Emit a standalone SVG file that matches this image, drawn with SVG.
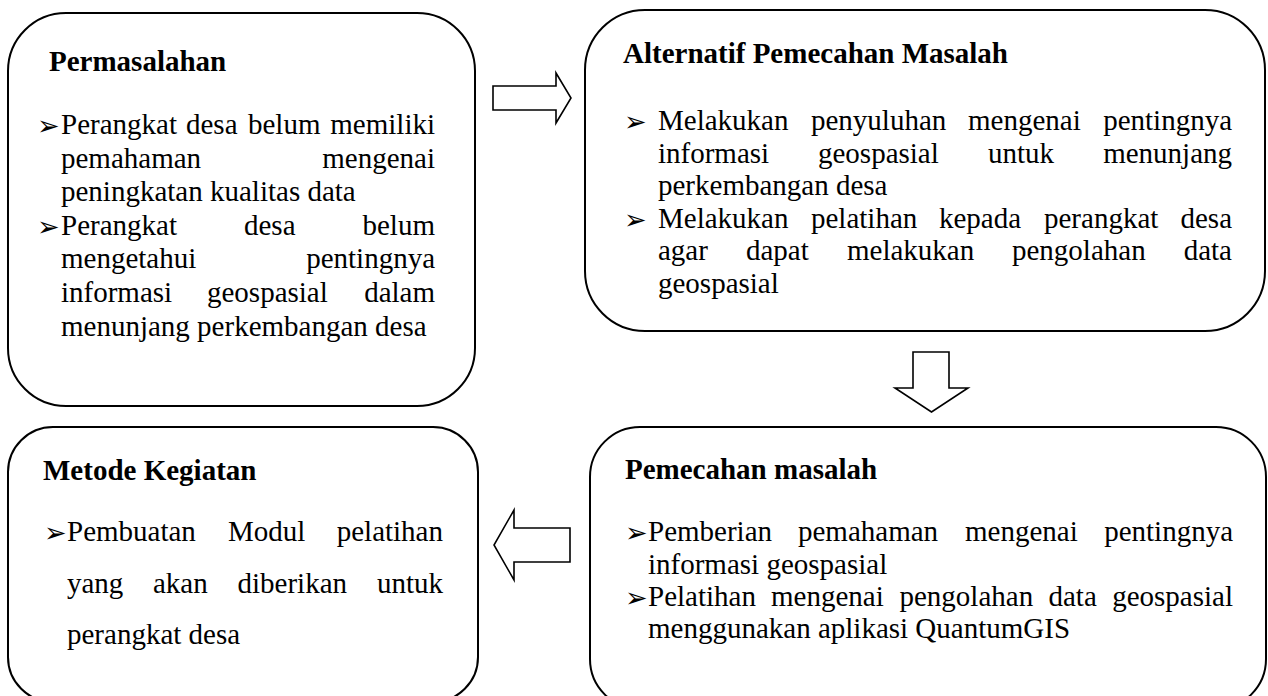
<svg xmlns="http://www.w3.org/2000/svg" width="1268" height="696" viewBox="0 0 1268 696">
<style>
.box{fill:#fff;stroke:#000;stroke-width:2}
.arr{fill:#fff;stroke:#000;stroke-width:1.6;stroke-linejoin:miter}
.t{font-family:"Liberation Serif","Times New Roman",serif;font-size:29px;fill:#000}
.b{font-weight:bold}
.e{text-anchor:end}
.bl{font-family:"DejaVu Sans",sans-serif;font-size:27px;fill:#000}
</style>
<rect width="1268" height="696" fill="#fff"/>
<g id="connectors">
<polygon class="arr" points="493,86 556,86 556,73 571,98 556,123 556,110 493,110"/>
<polygon class="arr" points="913,352 949,352 949,388 968,388 931.5,412 895,388 913,388"/>
<polygon class="arr" points="570,528 514,528 514,510 494,545 514,580 514,562 570,562"/>
</g>
<g id="permasalahan">
<rect class="box" x="8" y="13" width="467" height="393" rx="58" ry="58"/>
<text class="t b" x="49" y="71">Permasalahan</text>
<text class="bl" x="37" y="135">➢</text>
<text class="t" x="61" y="134">Perangkat</text>
<text class="t" x="186" y="134">desa</text>
<text class="t" x="248" y="134">belum</text>
<text class="t e" x="435" y="134">memiliki</text>
<text class="t" x="61" y="168">pemahaman</text>
<text class="t e" x="435" y="168">mengenai</text>
<text class="t" x="61" y="201">peningkatan kualitas data</text>
<text class="bl" x="37" y="236">➢</text>
<text class="t" x="61" y="235">Perangkat</text>
<text class="t" x="244" y="235">desa</text>
<text class="t e" x="435" y="235">belum</text>
<text class="t" x="61" y="268">mengetahui</text>
<text class="t e" x="435" y="268">pentingnya</text>
<text class="t" x="61" y="302">informasi</text>
<text class="t" x="207" y="302">geospasial</text>
<text class="t e" x="435" y="302">dalam</text>
<text class="t" x="61" y="336">menunjang perkembangan desa</text>
</g>
<g id="alternatif">
<rect class="box" x="585" y="10" width="680" height="321" rx="60" ry="60"/>
<text class="t b" x="623" y="63">Alternatif Pemecahan Masalah</text>
<text class="bl" x="624" y="131">➢</text>
<text class="t" x="658" y="130">Melakukan</text>
<text class="t" x="811" y="130">penyuluhan</text>
<text class="t" x="968" y="130">mengenai</text>
<text class="t e" x="1232" y="130">pentingnya</text>
<text class="t" x="658" y="162.5">informasi</text>
<text class="t" x="818" y="162.5">geospasial</text>
<text class="t" x="988" y="162.5">untuk</text>
<text class="t e" x="1232" y="162.5">menunjang</text>
<text class="t" x="658" y="195">perkembangan desa</text>
<text class="bl" x="624" y="228.5">➢</text>
<text class="t" x="658" y="227.5">Melakukan</text>
<text class="t" x="811" y="227.5">pelatihan</text>
<text class="t" x="939" y="227.5">kepada</text>
<text class="t" x="1044" y="227.5">perangkat</text>
<text class="t e" x="1232" y="227.5">desa</text>
<text class="t" x="658" y="260">agar</text>
<text class="t" x="746" y="260">dapat</text>
<text class="t" x="847" y="260">melakukan</text>
<text class="t" x="1012" y="260">pengolahan</text>
<text class="t e" x="1232" y="260">data</text>
<text class="t" x="658" y="292.5">geospasial</text>
</g>
<g id="metode">
<rect class="box" x="8" y="427" width="470" height="275" rx="45" ry="45"/>
<text class="t b" x="43" y="480">Metode Kegiatan</text>
<text class="bl" x="44" y="542">➢</text>
<text class="t" x="67" y="541">Pembuatan</text>
<text class="t" x="228" y="541">Modul</text>
<text class="t e" x="443" y="541">pelatihan</text>
<text class="t" x="67" y="593">yang</text>
<text class="t" x="153" y="593">akan</text>
<text class="t" x="237.5" y="593">diberikan</text>
<text class="t e" x="443" y="593">untuk</text>
<text class="t" x="67" y="644">perangkat desa</text>
</g>
<g id="pemecahan">
<rect class="box" x="590" y="427" width="676" height="282" rx="50" ry="50"/>
<text class="t b" x="625" y="479">Pemecahan masalah</text>
<text class="bl" x="625" y="542">➢</text>
<text class="t" x="648" y="541">Pemberian</text>
<text class="t" x="798" y="541">pemahaman</text>
<text class="t" x="965" y="541">mengenai</text>
<text class="t e" x="1233" y="541">pentingnya</text>
<text class="t" x="648" y="573.5">informasi geospasial</text>
<text class="bl" x="625" y="607">➢</text>
<text class="t" x="648" y="606">Pelatihan</text>
<text class="t" x="771" y="606">mengenai</text>
<text class="t" x="899.5" y="606">pengolahan</text>
<text class="t" x="1048.5" y="606">data</text>
<text class="t e" x="1233" y="606">geospasial</text>
<text class="t" x="648" y="638">menggunakan aplikasi QuantumGIS</text>
</g>
</svg>
